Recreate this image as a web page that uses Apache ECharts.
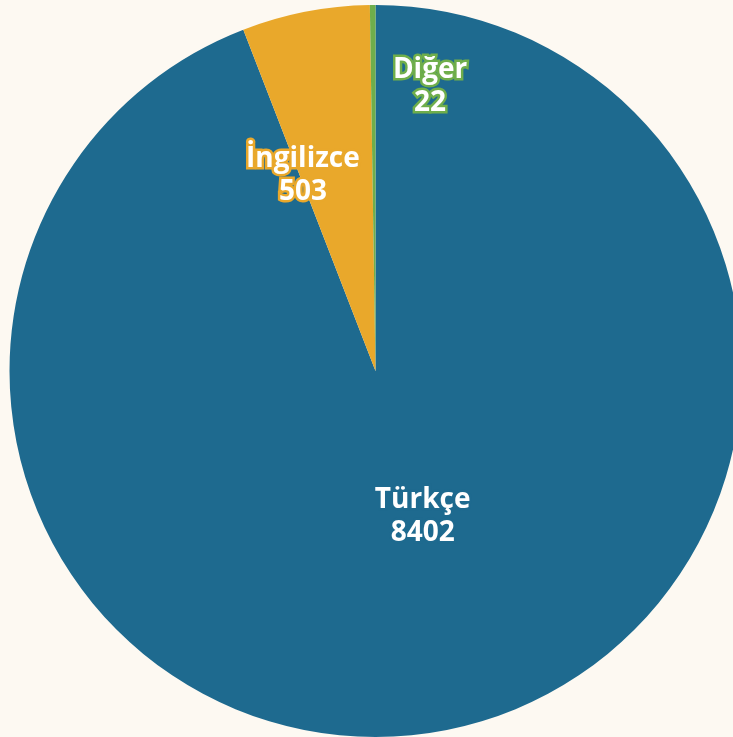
<!DOCTYPE html>
<html>
<head>
<meta charset="utf-8">
<script src="https://cdn.jsdelivr.net/npm/echarts@6/dist/echarts.min.js"></script>
<style>
  html, body { margin: 0; padding: 0; background: #fdf9f2; }
  #main { width: 733px; height: 737px; }
</style>
</head>
<body>
<div id="main"></div>
<script>
const categories = ['Türkçe', 'İngilizce', 'Diğer'];
const values = [8402, 503, 22];
const colors = ['#1e6a8f', '#e9a82b', '#6fae4b'];
// label nudges from the default inside position
const nudges = [[13, -37], [-37, -13], [56, -98]];

const myChart = echarts.init(document.getElementById('main'));
const option = {
  backgroundColor: '#fdf9f2',
  animation: false,
  series: [
    {
      type: 'pie',
      center: [375.5, 371],
      radius: 366,
      startAngle: 90,
      clockwise: true,
      itemStyle: { borderWidth: 0 },
      label: {
        show: true,
        position: 'inside',
        formatter: '{b}\n{c}',
        color: '#ffffff',
        fontFamily: 'Open Sans',
        fontWeight: 'bold',
        fontSize: 28,
        lineHeight: 33,
        textBorderWidth: 5
      },
      labelLine: { show: false },
      labelLayout: function (params) {
        const n = nudges[params.dataIndex];
        return { dx: n[0], dy: n[1] };
      },
      data: categories.map(function (name, i) {
        return {
          name: name,
          value: values[i],
          itemStyle: { color: colors[i] },
          label: { textBorderColor: colors[i] }
        };
      })
    }
  ]
};
myChart.setOption(option);
</script>
</body>
</html>
